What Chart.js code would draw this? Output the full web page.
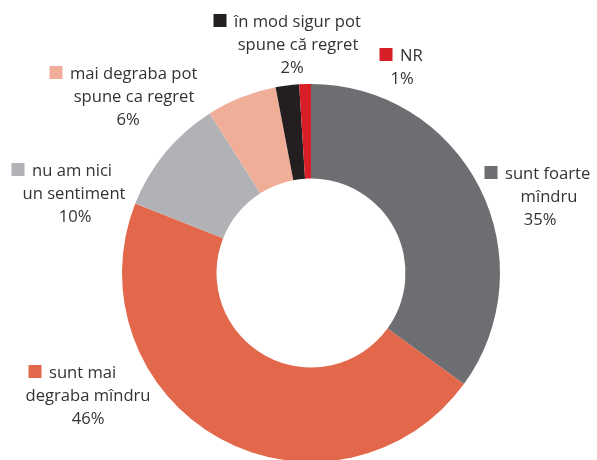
<!DOCTYPE html>
<html>
<head>
<meta charset="utf-8">
<script src="https://cdn.jsdelivr.net/npm/chart.js"></script>
<style>
  html, body { margin: 0; padding: 0; background: #fff; overflow: hidden; }
  #wrap { width: 597px; height: 466px; }
</style>
</head>
<body>
<div id="wrap"><canvas id="myChart" width="597" height="466"></canvas></div>
<script>
const categories = [
  'sunt foarte mîndru',
  'sunt mai degraba mîndru',
  'nu am nici un sentiment',
  'mai degraba pot spune ca regret',
  'în mod sigur pot spune că regret',
  'NR'
];
const values = [35, 46, 10, 6, 2, 1];
const labelLines = [
  ['sunt foarte', 'mîndru'],
  ['sunt mai', 'degraba mîndru'],
  ['nu am nici', 'un sentiment'],
  ['mai degraba pot', 'spune ca regret'],
  ['în mod sigur pot', 'spune că regret'],
  ['NR']
];
const colors = ['#6d6e71', '#e3674b', '#b1b2b5', '#f0ae98', '#231f20', '#d81e26'];

// text block layout: sq = square center x, y = first baseline,
// x = center of following lines, px = center of the percent
const labelPos = [
  { sq: 491, y: 179, x: 549, px: 540 },
  { sq: 35, y: 378, x: 88, px: 88 },
  { sq: 18, y: 176, x: 74, px: 75 },
  { sq: 56, y: 79, x: 134, px: 128 },
  { sq: 220, y: 27, x: 298, px: 292 },
  { sq: 386, y: 61, x: 410, px: 402 }
];

const labelsPlugin = {
  id: 'sliceLabels',
  afterDraw(chart) {
    const ctx = chart.ctx;
    ctx.save();
    ctx.font = '16.6px "Open Sans", sans-serif';
    ctx.textBaseline = 'alphabetic';
    labelLines.forEach((lines, i) => {
      const p = labelPos[i];
      const lh = 23;
      ctx.fillStyle = colors[i];
      ctx.fillRect(p.sq - 6.5, p.y - 13, 13, 13);
      ctx.fillStyle = '#333333';
      ctx.textAlign = 'left';
      ctx.fillText(lines[0], p.sq + 14, p.y);
      ctx.textAlign = 'center';
      let y = p.y;
      for (let k = 1; k < lines.length; k++) {
        y += lh;
        ctx.fillText(lines[k], p.x, y);
      }
      y += lh;
      ctx.fillText(values[i] + '%', p.px, y);
    });
    ctx.restore();
  }
};

new Chart(document.getElementById('myChart'), {
  type: 'doughnut',
  data: {
    labels: categories,
    datasets: [{
      data: values,
      backgroundColor: colors,
      borderWidth: 0
    }]
  },
  options: {
    responsive: false,
    animation: false,
    cutout: '50%',
    layout: { padding: { top: 84, bottom: 4, left: 122, right: 97 } },
    plugins: {
      legend: { display: false },
      tooltip: { enabled: false }
    }
  },
  plugins: [labelsPlugin]
});
</script>
</body>
</html>
